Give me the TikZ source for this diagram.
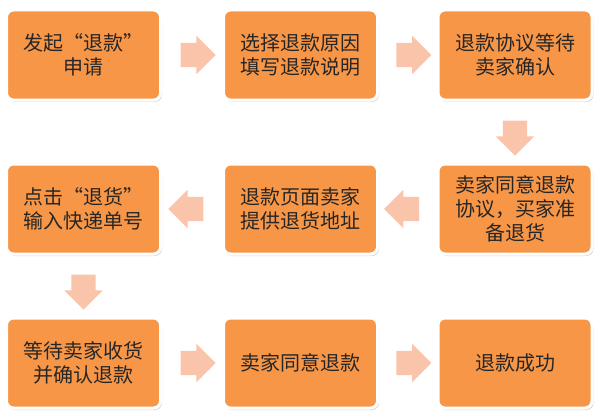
\documentclass[tikz,border=0pt]{standalone}
\usepackage{fontspec}
\setmainfont{Noto Sans CJK SC}
\usetikzlibrary{shapes.arrows,shadows,calc}
\definecolor{boxorange}{HTML}{F79646}
\definecolor{arrowpink}{HTML}{F9C4A9}
\definecolor{txtdark}{HTML}{262626}
\tikzset{
  stepbox/.style={draw=white,line width=3pt,fill=boxorange,rounded corners=7pt,
    minimum width=154pt,minimum height=90pt,text width=140pt,align=center,
    text=txtdark,font=\fontsize{20}{24}\selectfont,
    drop shadow={shadow xshift=1.5pt,shadow yshift=-2pt,opacity=0.3,fill=gray}},
  flowarrow/.style={single arrow,fill=arrowpink,draw=none,inner xsep=0pt,inner ysep=12pt,
    single arrow head extend=7pt,minimum height=35pt,minimum width=38pt}
}
\begin{document}
\begin{tikzpicture}[x=1pt,y=-1pt]
  \useasboundingbox (0,0) rectangle (600,420);

  % 第一行
  \node[stepbox] (apply)   at (83.5,55) {发起“退款”\\申请};
  \node[stepbox] (reason)  at (300.5,55) {选择退款原因\\填写退款说明};
  \node[stepbox] (wait)    at (515,55) {退款协议等待\\卖家确认};

  % 第二行
  \node[stepbox] (agree)   at (515,209) {卖家同意退款\\协议，买家准\\备退货};
  \node[stepbox] (address) at (300.5,209) {退款页面卖家\\提供退货地址};
  \node[stepbox] (ship)    at (83.5,209) {点击“退货”\\输入快递单号};

  % 第三行
  \node[stepbox] (receive) at (83.5,363) {等待卖家收货\\并确认退款};
  \node[stepbox] (refund)  at (300.5,363) {卖家同意退款};
  \node[stepbox] (done)    at (515,363) {退款成功};

  % 箭头
  \node[flowarrow] (a1) at ($(apply.east)!0.5!(reason.west)$) {};
  \node[flowarrow] (a2) at ($(reason.east)!0.5!(wait.west)$) {};
  \node[flowarrow,rotate=-90] (a3) at ($(wait.south)!0.5!(agree.north)$) {};
  \node[flowarrow,rotate=180] (a4) at ($(agree.west)!0.5!(address.east)$) {};
  \node[flowarrow,rotate=180] (a5) at ($(address.west)!0.5!(ship.east)$) {};
  \node[flowarrow,rotate=-90] (a6) at ($(ship.south)!0.5!(receive.north)$) {};
  \node[flowarrow] (a7) at ($(receive.east)!0.5!(refund.west)$) {};
  \node[flowarrow] (a8) at ($(refund.east)!0.5!(done.west)$) {};
\end{tikzpicture}
\end{document}
